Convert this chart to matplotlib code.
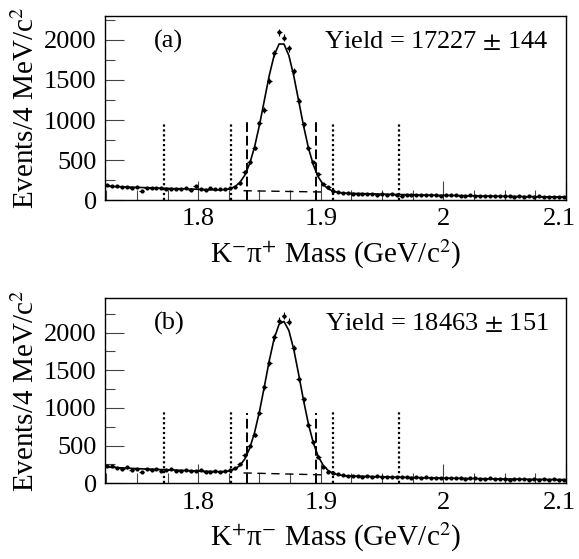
import numpy as np
import matplotlib
matplotlib.use("Agg")
import matplotlib.pyplot as plt
from matplotlib.ticker import MultipleLocator, FixedLocator
from matplotlib.transforms import ScaledTranslation

plt.rcParams['font.family'] = ['Liberation Serif', 'DejaVu Serif']
plt.rcParams['mathtext.fontset'] = 'stix'

# bin centres, 4 MeV bins
mass = np.round(np.arange(94) * 0.004 + 1.726, 3)

# ---- panel (a) K- pi+ ----
data_a = [185, 178, 170, 168, 165, 150, 160, 118, 150, 155, 148, 150, 138, 140, 143,
          135, 150, 128, 172, 140, 130, 145, 132, 138, 135,
          146, 160, 208, 354, 471, 654, 958, 1125, 1488, 1833, 2096, 2029, 1896, 1610,
          1237, 946, 646, 471, 320, 200, 160, 118, 100, 88,
          82, 75, 80, 70, 78, 72, 68, 76, 65, 70, 62, 55, 66, 68, 60, 62, 58, 64, 60, 55,
          62, 58, 60, 54, 50, 58, 56, 48, 52, 45, 50, 46, 44, 52, 40, 46, 42, 45, 40, 48,
          38, 42, 36, 40, 35]
fit_a = [172, 170, 167, 165, 163, 160, 158, 156, 154, 152, 150, 148, 146, 144, 142,
         141, 139, 137, 135, 133, 131, 128, 126,
         127, 131, 142, 167, 219, 309, 454, 663, 936, 1247, 1557, 1810, 1950, 1949, 1806,
         1550, 1238, 924, 648, 436, 287, 194, 139, 111, 96, 89,
         84, 83, 81, 80, 78, 77, 75, 74, 72, 71, 69, 68, 67, 66, 65, 63, 62, 61, 60, 59,
         58, 57, 56, 55, 54, 53, 52, 51, 50, 49, 48, 47, 47, 46, 45, 44, 43, 42, 42, 41,
         40, 40, 39, 39, 38]

# ---- panel (b) K+ pi- ----
data_b = [225, 230, 200, 195, 210, 180, 190, 150, 185, 175, 190, 160, 172, 185, 170,
          165, 178, 160, 170, 172, 155, 148, 160, 150, 158,
          176, 199, 256, 375, 499, 641, 937, 1273, 1600, 1936, 2157, 2225, 2143, 1790,
          1383, 1118, 773, 552, 353, 220, 154, 133, 120, 110,
          102, 95, 100, 90, 96, 88, 92, 85, 90, 80, 86, 78, 84, 76, 80, 74, 78, 70, 75, 72,
          68, 74, 65, 70, 62, 68, 64, 60, 58, 66, 55, 60, 62, 50, 58, 52, 56, 50, 54, 48,
          55, 46, 52, 44, 50]
fit_b = [215, 212, 208, 205, 202, 198, 195, 192, 190, 188, 185, 182, 180, 178, 175,
         172, 170, 168, 165, 162, 160, 158, 155,
         155, 158, 167, 189, 236, 322, 463, 673, 953, 1285, 1628, 1923, 2111, 2149, 2028,
         1776, 1445, 1097, 783, 533, 355, 239, 171, 134, 114, 105,
         98, 97, 95, 93, 92, 90, 88, 87, 85, 83, 82, 80, 79, 77, 76, 75, 73, 72, 71, 70,
         69, 68, 67, 66, 65, 64, 63, 62, 61, 60, 59, 58, 58, 57, 56, 55, 54, 54, 53, 52,
         52, 51, 50, 50, 49]

# background under the signal window (dashed)
bkg_x = [1.837, 1.902]
bkg_a = [116, 100]
bkg_b = [138, 112]

# sideband (dotted) and signal window (dashed) edges
side_edges = [1.772, 1.827, 1.910, 1.964]
sig_edges = [1.840, 1.896]

labels = ["(a)", "(b)"]
yields = ["Yield = 17227 $\\pm$ 144", "Yield = 18463 $\\pm$ 151"]
xlabels = ["K$^{-}$π$^{+}$ Mass (GeV/c$^{2}$)", "K$^{+}$π$^{-}$ Mass (GeV/c$^{2}$)"]
ytops = [2300, 2460]
line_tops = [(980, 1000), (950, 930)]

fig = plt.figure(figsize=(5.79, 5.59), dpi=100)
ax_a = fig.add_axes([0.1813, 0.6422, 0.7962, 0.3292])
ax_b = fig.add_axes([0.1813, 0.1354, 0.7962, 0.3315])

panels = [(ax_a, data_a, fit_a, bkg_a), (ax_b, data_b, fit_b, bkg_b)]
for i, (ax, d, f, bg) in enumerate(panels):
    d = np.array(d)
    ax.errorbar(mass, d, xerr=0.002, yerr=np.sqrt(d), fmt='o', ms=2.0, color='black',
                elinewidth=0.8, capsize=0)
    ax.plot(mass, f, color='black', lw=1.2)
    ax.plot(bkg_x, bg, color='black', lw=1.0, ls=(0, (6, 4)))
    ax.vlines(side_edges, 0, line_tops[i][0], colors='black', lw=1.6, linestyles=(0, (1, 1.2)))
    ax.vlines(sig_edges, 0, line_tops[i][1], colors='black', lw=1.4, linestyles=(0, (5, 2)))

    ax.set_xlim(1.724, 2.1)
    ax.set_ylim(0, ytops[i])
    ax.xaxis.set_major_locator(FixedLocator([1.8, 1.9, 2.0, 2.1]))
    ax.set_xticklabels(["1.8", "1.9", "2", "2.1"])
    ax.xaxis.set_minor_locator(MultipleLocator(0.025))
    ax.yaxis.set_major_locator(MultipleLocator(500))
    ax.yaxis.set_minor_locator(MultipleLocator(250))
    ax.tick_params(which='both', direction='in', top=False, right=False,
                   labelsize=19, width=0.8, color='#444444')
    ax.tick_params(which='major', length=14, pad=6)
    ax.tick_params(which='minor', length=7)
    for s in ax.spines.values():
        s.set_linewidth(1.0)

    # nudge "2.1" left so it stays inside the figure
    last = ax.get_xticklabels()[-1]
    last.set_transform(last.get_transform() + ScaledTranslation(-5 / 72, 0, fig.dpi_scale_trans))

    ax.set_xlabel(xlabels[i], fontsize=21, labelpad=5)
    ax.set_ylabel("Events/4 MeV/c$^{2}$", fontsize=21, labelpad=3)
    ax.text(0.105, 0.86, labels[i], transform=ax.transAxes, fontsize=19, va='center')
    ax.text(0.962, 0.86, yields[i], transform=ax.transAxes, fontsize=19,
            va='center', ha='right')

fig.savefig("out.png", dpi=100)
